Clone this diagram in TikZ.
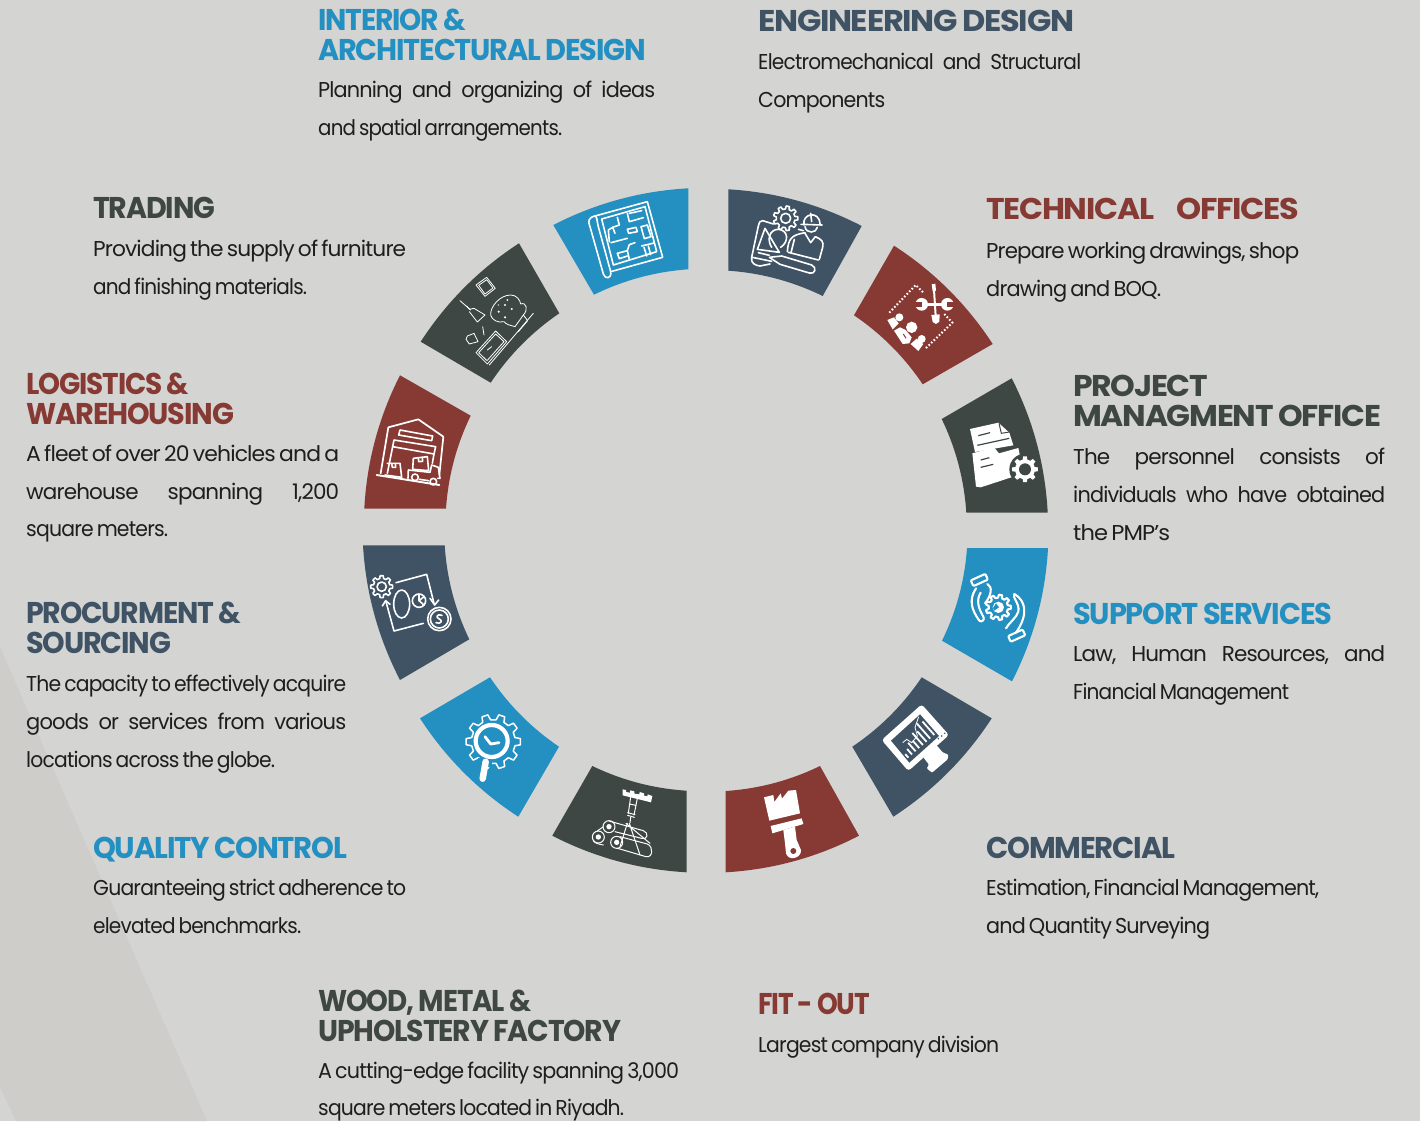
\documentclass[tikz,border=0pt]{standalone}
\usepackage{fontspec}
\usepackage{graphicx}
\newfontfamily\HF{Poppins}[LetterSpace=-4]
\newfontfamily\BF{Poppins}[LetterSpace=-4]
\definecolor{bgc}{HTML}{D4D4D2}
\definecolor{bgd}{HTML}{CECDC9}
\definecolor{cblue}{HTML}{2390C1}
\definecolor{cnavy}{HTML}{3F5365}
\definecolor{cred}{HTML}{873A34}
\definecolor{cdark}{HTML}{3E4743}
\definecolor{ctext}{HTML}{1E1E1E}
\newsavebox\fitbox
\newcommand\FL[2]{\sbox\fitbox{\spaceskip=.15em #2}\pgfmathsetmacro\fitr{#1/\the\wd\fitbox}\scalebox{\fitr}[1]{\usebox\fitbox}}
\newcommand\JL[2]{\sbox\fitbox{\spaceskip=.45em #2}\pgfmathsetmacro\fitr{min(1,#1/\the\wd\fitbox)}\pgfmathsetlengthmacro\fitw{#1/\fitr}\scalebox{\fitr}[1]{\hbox to \fitw{\spaceskip=.45em #2}}}
\newcommand\Sector[5]{\fill[#1] #2 to[bend left=12,looseness=.87] #3 -- #4 to[bend right=11,looseness=.87] #5 -- cycle;}
\newcommand\HB[6]{\node[head,text=#4,text width=#5pt] (#1) at (#2,#3) {\rule{0pt}{30pt}#6};}
\newcommand\BB[5]{\node[bodyt,text width=#4pt] (#1) at (#2,#3) {\rule{0pt}{30pt}#5};}
\newcommand\GearO[6]{\begin{scope}[shift={(#1,#2)}]\pgfmathsetmacro\gs{360/#5}
 \draw[#6] \foreach \a in {1,...,#5}{(\a*\gs-.3*\gs:#4)--(\a*\gs-.18*\gs:#3)--(\a*\gs+.18*\gs:#3)--(\a*\gs+.3*\gs:#4)--(\a*\gs+.7*\gs:#4)};
 \end{scope}}
\newcommand\GearF[5]{\begin{scope}[shift={(#1,#2)}]\pgfmathsetmacro\gs{360/#5}
 \fill[white] (0,0) circle (#4) \foreach \a in {1,...,#5}{(\a*\gs-.3*\gs:#4)--(\a*\gs-.18*\gs:#3)--(\a*\gs+.18*\gs:#3)--(\a*\gs+.3*\gs:#4)--cycle};
 \end{scope}}
\tikzset{
 head/.style={anchor=north west,inner sep=0pt,align=left,yshift=29.3pt,font=\HF\bfseries\fontsize{30}{29.3}\selectfont},
 bodyt/.style={anchor=north west,inner sep=0pt,align=left,yshift=29.3pt,text=ctext,font=\BF\fontsize{21.5}{37.8}\selectfont},
 zc/.style 2 args={shift={(#1,#2)},x=0.33333pt,y=-0.33333pt},
 ic/.style={draw=white,line width=1.6pt,line cap=round,line join=round},
 icthin/.style={draw=white,line width=.8pt,line cap=round,line join=round},
 icthick/.style={draw=white,line width=2.1pt,line cap=round,line join=round},
}
\begin{document}
\begin{tikzpicture}[x=1pt,y=-1pt]
\useasboundingbox (0,0) rectangle (1420,1121);
\fill[bgc] (0,0) rectangle (1420,1121);
\fill[bgd] (0,647) -- (207,1121) -- (16,1121) -- (0,1087) -- cycle;

% ring sectors
\Sector{cblue}{(553.3,225)}{(688.3,188.3)}{(688.3,269.3)}{(594,294.7)}
\Sector{cnavy}{(728.3,189.3)}{(861.7,226)}{(822.7,296)}{(728.3,270.7)}
\Sector{cred}{(894,245.7)}{(992.7,344)}{(922.7,384.3)}{(854,315.3)}
\Sector{cdark}{(1011.7,378.3)}{(1047.7,512.7)}{(966.3,512.7)}{(941.7,419)}
\Sector{cblue}{(1048,548)}{(1012,681.3)}{(942,640.7)}{(967,548)}
\Sector{cnavy}{(991.7,718.3)}{(893.3,816.7)}{(852.3,746.7)}{(921.7,677.3)}
\Sector{cred}{(859,835.7)}{(725.7,872.3)}{(725.7,791)}{(820,766)}
\Sector{cdark}{(686.7,872.3)}{(552.3,835.7)}{(592.3,766)}{(686.7,790.7)}
\Sector{cblue}{(518.3,816.7)}{(420,718.3)}{(490,677.3)}{(559,746.7)}
\Sector{cnavy}{(400,680)}{(363,545.3)}{(444.7,545.3)}{(469.3,639.3)}
\Sector{cred}{(364.3,508.7)}{(400,375.3)}{(470.7,415.7)}{(446,508.7)}
\Sector{cdark}{(420.7,341.7)}{(519,243.3)}{(559.3,313.3)}{(490.7,382.7)}

% blueprint
\begin{scope}[zc={540}{170}]
\draw[ic] (165,138)--(322,95)--(368,262)--(212,305);
\draw[ic] (165,138) .. controls (145,142) and (143,155) .. (150,170) -- (190,312) .. controls (195,328) and (215,328) .. (212,305) -- (175,170) .. controls (170,150) and (172,142) .. (165,138);
\draw[ic] (185,147)--(315,110)--(350,245)--(220,285)--cycle;
\draw[ic] (208,215)--(205,180)--(218,172)--(225,190);
\draw[ic] (232,142)--(238,165)--(218,172);
\draw[ic] (262,130)--(268,155)--(310,143);
\draw[ic] (268,130)--(305,122);
\draw[ic] (262,178)--(288,172)--(292,185)--(266,190)--cycle;
\draw[ic] (303,170)--(322,165)--(333,200)--(313,206)--cycle;
\draw[ic] (213,218)--(262,205);
\draw[ic] (232,250)--(262,242)--(268,268);
\draw[ic] (262,242)--(268,224)--(285,218);
\draw[ic] (232,250)--(238,266)--(262,258);
\draw[ic] (305,228)--(342,219);
\draw[ic] (312,232)--(320,258);
\draw[ic] (325,228)--(332,254);
\end{scope}

% engineer
\begin{scope}[zc={540}{170}]
\GearO{737}{145}{37}{28}{9}{ic}
\draw[ic] (737,145) circle (15);
\draw[ic] (700,162)--(668,152) .. controls (660,150) and (658,158) .. (655,168) -- (635,262) .. controls (632,280) and (645,286) .. (660,288) -- (690,282);
\draw[ic] (637,262)--(695,274);
\draw[ic] (775,178)--(790,182);
\draw[ic] (675,175)--(718,247)--(652,238)--cycle;
\draw[ic] (695,232) .. controls (680,210) and (688,178) .. (715,178) .. controls (745,180) and (748,215) .. (722,232);
\draw[ic] (655,248)--(688,256);
\draw[ic] (688,262)--(725,258)--(815,285) .. controls (832,292) and (825,315) .. (808,309) -- (720,283)--cycle;
\draw[ic] (792,165) .. controls (785,130) and (838,120) .. (840,162);
\draw[ic] (783,163)--(846,165);
\draw[ic] (812,130)--(815,155);
\draw[ic] (795,170) .. controls (798,192) and (830,190) .. (832,172);
\draw[ic] (742,245) .. controls (745,205) and (755,195) .. (795,188);
\draw[ic] (795,190)--(812,218)--(826,200);
\draw[ic] (826,200) .. controls (845,208) and (852,215) .. (848,232) -- (838,268);
\draw[ic] (763,208)--(753,248);
\draw[ic] (745,247)--(835,270);
\end{scope}

% technical offices
\begin{scope}[zc={850}{240}]
\draw[white,line width=2pt,dash pattern=on 1.6pt off 2pt] (118,218)--(197,135)--(222,160);
\draw[white,line width=2pt,dash pattern=on 1.6pt off 2pt] (283,222)--(307,248)--(225,327);
\fill[white] (215,193) circle (19);
\fill[cred] (192,186) rectangle (215,200);
\fill[white] (292,193) circle (19);
\fill[cred] (292,186) rectangle (316,200);
\draw[white,line width=3pt] (220,193)--(290,193);
\draw[white,line width=2pt] (252,150)--(257,228);
\fill[white] (245,133)--(256,131)--(258,152)--(248,154)--cycle;
\fill[white] (244,225)--(269,223)--(268,245)--(258,252)--(248,246)--cycle;
\fill[white] (148,232) circle (12);
\fill[white] (185,262) circle (17);
\fill[white] (215,297) circle (12);
\fill[white] (112,240)--(132,232)--(146,250)--(128,268)--cycle;
\fill[white] (132,272)--(150,262)--(167,270)--(185,292)--(178,310)--(158,312)--cycle;
\fill[white] (182,312)--(200,296)--(220,312)--(205,333)--cycle;
\draw[cred,line width=1pt] (160,282)--(168,295);
\end{scope}

% project office
\begin{scope}[zc={850}{370}]
\fill[white] (360,177)--(445,158)--(478,188)--(490,226)--(375,246)--cycle;
\draw[cdark,line width=1pt] (447,160)--(454,190)--(478,186);
\draw[cdark,line width=1.2pt] (385,197)--(420,188);
\draw[cdark,line width=1.2pt] (382,226)--(478,205);
\fill[white] (367,250)--(432,232)--(447,250)--(505,234)--(512,268)--(490,320)--(392,352)--(378,350)--cycle;
\draw[cdark,line width=1.2pt] (392,270)--(418,263);
\draw[cdark,line width=1.2pt] (392,292)--(430,283);
\fill[cdark] (525,298) circle (47);
\GearF{525}{298}{39}{30}{8}
\fill[cdark] (525,298) circle (18);
\end{scope}

% support services
\begin{scope}[zc={850}{370}]
\draw[white,line width=2.1pt,line join=round,rounded corners=1pt] (362.3,631.2)--(405.9,611.6)--(413.7,628.8)--(370.1,648.4)--cycle;
\draw[white,line width=2.1pt,line join=round,rounded corners=1pt] (474.3,798.2)--(517.9,778.6)--(525.7,795.8)--(482.1,815.4)--cycle;
\draw[icthick] (378,655) .. controls (355,690) and (365,720) .. (388,752) .. controls (395,758) and (405,750) .. (400,740) .. controls (385,715) and (378,690) .. (392,668);
\draw[icthick] (412,642) .. controls (428,650) and (425,675) .. (405,700);
\draw[icthick] (493,672) .. controls (525,690) and (538,730) .. (498,788);
\draw[icthick] (493,672) .. controls (485,682) and (510,700) .. (505,725) .. controls (498,745) and (480,755) .. (468,775);
\GearO{445}{712}{38}{29}{9}{icthick}
\fill[white] (445,712) circle (17);
\fill[cblue] (438,700)--(447,712)--(433,722)--(429,714)--cycle;
\end{scope}

% commercial monitor
\begin{scope}[zc={540}{670}]
\fill[white,rounded corners=3pt] (1025,210)--(1145,103)--(1227,195)--(1105,303)--cycle;
\fill[cnavy] (1053,212)--(1140,133)--(1197,198)--(1108,278)--cycle;
\fill[white,rounded corners=1pt] (1150,262)--(1190,226)--(1208,247)--(1225,254)--(1223,268)--(1176,308)--(1160,295)--(1167,284)--cycle;
\foreach \u/\l in {0/14,.14/22,.28/34,.42/30,.56/48,.70/42,.84/60,1/54}{
 \draw[white,line width=1.8pt] ({1105+\u*78},{263-\u*68}) -- ({1105+\u*78-.66*\l},{263-\u*68-.75*\l});
}
\draw[white,line width=.8pt] (1088,218)--(1100,208)--(1115,218)--(1132,198)--(1125,172)--(1136,140);
\fill[cnavy] (1195,206) circle (2.5) (1205,198) circle (2.5) (1214,190) circle (2.5);
\end{scope}

% paint brush
\begin{scope}[zc={540}{670}]
\fill[white] (672,382)--(700,375)--(703,396)--(722,370)--(726,386)--(745,362)--(768,360)--(780,430)--(688,452)--cycle;
\fill[white] (692,468)--(785,445)--(790,462)--(697,490)--cycle;
\fill[white] (730,480)--(765,470)--(770,510)--(783,540) .. controls (785,565) and (745,575) .. (738,550) -- (735,520)--cycle;
\fill[cred] (760,543) circle (9);
\end{scope}

% wood factory
\begin{scope}[zc={540}{670}]
\fill[white] (248,358)--(258,360)--(258,366)--(270,368)--(271,361)--(283,364)--(283,371)--(298,373)--(299,366)--(312,370)--(312,377)--(322,379)--(323,373)--(337,378)--(333,397)--(248,376)--cycle;
\draw[icthin,line width=1pt] (272,380)--(265,430);
\draw[icthin,line width=1pt] (292,385)--(282,435);
\draw[icthin,line width=1pt] (268,402)--(288,406);
\draw[icthin,line width=1pt] (263,428)--(285,434) (263,436)--(283,442);
\draw[ic,line width=1pt] (272,442)--(270,458);
\draw[icthin,line width=1pt] (262,460)--(240,530) (268,460)--(300,555) (258,460)--(330,520);
\draw[icthin,line width=1pt] (207,453)--(310,482) .. controls (328,488) and (322,512) .. (305,505) -- (225,485);
\draw[icthin,line width=1pt] (172,483)--(190,470) (160,512) .. controls (165,520) and (175,522) .. (190,525);
\draw[icthin,line width=1pt] (240,500)--(322,522) .. controls (342,530) and (338,565) .. (318,560) -- (233,535);
\draw[icthin,line width=1pt] (207,470) circle (18) (175,501) circle (18) (230,517) circle (18);
\fill[white] (207,470) circle (8) (175,501) circle (8) (230,517) circle (8);
\end{scope}

% quality control
\begin{scope}[zc={350}{540}]
\GearO{430}{605}{82}{66}{10}{ic,line width=1.5pt}
\fill[cblue] (385,655) rectangle (425,680);
\draw[white,line width=4.2pt] (425,603) circle (48);
\draw[white,line width=2.8pt,line cap=round,line join=round] (405,590)--(422,612)--(447,608);
\draw[white,line width=6.5pt,line cap=round] (407,665)--(398,716);
\end{scope}

% procurement
\begin{scope}[zc={350}{540}]
\GearO{95}{140}{33}{25}{8}{ic}
\draw[ic] (95,140) circle (14);
\draw[ic] (138,128)--(230,103)--(252,190);
\draw[ic] (240,175)--(254,195)--(266,180);
\draw[ic] (220,250)--(132,273)--(108,185);
\draw[ic] (97,198)--(107,182)--(120,193);
\draw[ic] (268,237) circle (35);
\draw[ic] (268,237) circle (27);
\draw[ic] (276,226) .. controls (262,220) and (255,232) .. (268,237) .. controls (280,242) and (272,254) .. (258,248);
\draw[ic] (155,192) ellipse (24 and 42);
\draw[ic] (207,182) circle (20);
\draw[ic] (207,165)--(207,182)--(222,170) (207,182)--(222,195);
\end{scope}

% logistics
\begin{scope}[zc={350}{230}]
\draw[ic,line width=1.7pt] (92,730)--(115,592)--(205,568)--(280,620)--(268,735);
\draw[ic] (150,600)--(248,618)--(245,632)--(146,615)--cycle;
\draw[ic] (132,630)--(257,650)--(252,672)--(128,650)--cycle;
\draw[ic] (128,650)--(112,730);
\draw[ic] (252,672)--(247,700);
\draw[ic] (112,700)--(150,700)--(155,742)--(105,735);
\draw[ic] (125,700)--(127,712)--(137,712)--(136,700);
\draw[ic] (190,685)--(232,680)--(236,722)--(188,718)--cycle;
\draw[ic] (205,683)--(206,695)--(218,694)--(217,682);
\draw[ic] (174,745)--(175,720)--(240,727)--(245,705)--(265,712)--(270,745)--(263,745);
\draw[ic] (208,748)--(236,752);
\draw[ic,line width=1.9pt] (80,735)--(268,765);
\draw[ic] (195,742) circle (10) (250,755) circle (10);
\end{scope}

% trading
\begin{scope}[zc={350}{230}]
\draw[icthin] (378,165)--(410,142)--(436,175)--(405,199)--cycle;
\draw[icthin] (386,166)--(410,149)--(429,174)--(405,192)--cycle;
\draw[icthin] (330,212)--(362,240);
\draw[icthin] (350,228)--(358,238)--(372,235)--(405,255)--(382,276)--(358,245);
\draw[icthin] (422,255) .. controls (420,230) and (450,195) .. (482,195) .. controls (500,195) and (510,210) .. (512,222) .. controls (530,215) and (535,240) .. (520,255) -- (495,290) .. controls (480,285) and (470,285) .. (462,275) .. controls (445,280) and (425,270) .. (422,255);
\fill[white] (446,245) circle (3.5) (465,225) circle (3.5) (485,237) circle (3.5) (465,262) circle (3.5) (472,210) circle (3) (445,225) circle (2);
\draw[icthin] (520,255)--(533,272)--(505,305);
\draw[icthin] (418,405)--(550,250);
\draw[icthin] (352,318)--(372,310)--(384,335)--(358,342)--(348,328)--cycle;
\draw[icthin] (378,368)--(437,303)--(470,335)--(412,402)--cycle;
\draw[icthin] (386,368)--(437,312)--(462,335)--(411,392)--cycle;
\draw[icthin] (412,360)--(425,350);
\draw[icthin] (398,290)--(402,315);
\end{scope}

% texts
\HB{h1}{318}{30}{cblue}{330}{\FL{148}{INTERIOR \&}\\\FL{328}{ARCHITECTURAL DESIGN}}
\BB{b1}{318}{96.5}{339}{\JL{337}{Planning \hfill and \hfill organizing \hfill of \hfill ideas}\\\FL{244}{and spatial arrangements.}}
\HB{h2}{758}{31}{cnavy}{318}{\FL{316}{ENGINEERING DESIGN}}
\BB{b2}{758}{68.5}{325}{\JL{323}{Electromechanical \hfill and \hfill Structural}\\\FL{127}{Components}}
\HB{h3}{986}{219}{cred}{315}{\hbox to 313pt{\FL{168}{TECHNICAL} \hfill\FL{123}{OFFICES}}}
\BB{b3}{986}{258}{315}{\FL{313}{Prepare working drawings, shop}\\\FL{175}{drawing and BOQ.}}
\HB{h4}{1073}{396}{cdark}{310}{\FL{135}{PROJECT}\\\FL{308}{MANAGMENT OFFICE}}
\BB{b4}{1073}{463.5}{314}{\JL{312}{The \hfill personnel \hfill consists \hfill of}\\\JL{312}{individuals \hfill who \hfill have \hfill obtained}\\\FL{97}{the PMP’s}}
\HB{h5}{1073}{624}{cblue}{261}{\FL{259}{SUPPORT SERVICES}}
\BB{b5}{1073}{660.3}{314}{\JL{312}{Law, \hfill Human \hfill Resources, \hfill and}\\\FL{216}{Financial Management}}
\HB{h6}{986}{858}{cnavy}{191}{\FL{189}{COMMERCIAL}}
\BB{b6}{986}{895}{335}{\FL{333}{Estimation, Financial Management,}\\\FL{224}{and Quantity Surveying}}
\HB{h7}{758}{1014}{cred}{114}{\FL{112}{FIT - OUT}}
\BB{b7}{758}{1051.3}{243}{\FL{241}{Largest company division}}
\HB{h8}{318}{1011}{cdark}{305}{\FL{213}{WOOD, METAL \&}\\\FL{303}{UPHOLSTERY FACTORY}}
\BB{b8}{318}{1077.2}{363}{\FL{361}{A cutting-edge facility spanning 3,000}\\\FL{306}{square meters located in Riyadh.}}
\HB{h9}{93}{858}{cblue}{256}{\FL{254}{QUALITY CONTROL}}
\BB{b9}{93}{895}{315}{\FL{313}{Guaranteeing strict adherence to}\\\FL{208}{elevated benchmarks.}}
\HB{h10}{26}{623}{cnavy}{217}{\FL{215}{PROCURMENT \&}\\\FL{145}{SOURCING}}
\BB{b10}{26}{690.5}{322}{\FL{320}{The capacity to effectively acquire}\\\JL{320}{goods \hfill or \hfill services \hfill from \hfill various}\\\FL{249}{locations across the globe.}}
\HB{h11}{26}{394}{cred}{210}{\FL{163}{LOGISTICS \&}\\\FL{208}{WAREHOUSING}}
\BB{b11}{26}{460.3}{315}{\FL{313}{A fleet of over 20 vehicles and a}\\\JL{313}{warehouse \hfill spanning \hfill 1,200}\\\FL{142}{square meters.}}
\HB{h12}{93}{218}{cdark}{124}{\FL{122}{TRADING}}
\BB{b12}{93}{256}{315}{\FL{313}{Providing the supply of furniture}\\\FL{214}{and finishing materials.}}
\end{tikzpicture}
\end{document}
